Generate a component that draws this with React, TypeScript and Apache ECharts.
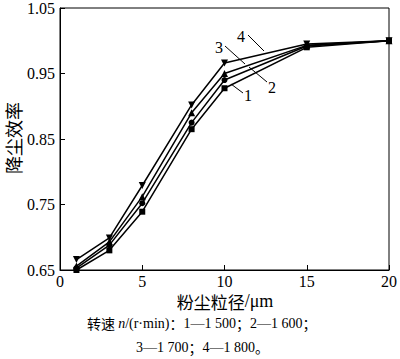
import React, { useEffect, useRef } from "react";
import * as echarts from "echarts";

const xValues = [1, 3, 5, 8, 10, 15, 20];
const s1 = [0.65, 0.68, 0.739, 0.865, 0.9275, 0.99, 1.0];
const s2 = [0.653, 0.688, 0.752, 0.875, 0.94, 0.992, 1.0];
const s3 = [0.656, 0.693, 0.762, 0.89, 0.95, 0.993, 1.0];
const s4 = [0.666, 0.699, 0.779, 0.902, 0.966, 0.995, 1.0];
const yTicks = [0.65, 0.75, 0.85, 0.95, 1.05];
const seriesNames = ["1", "2", "3", "4"];

const SERIF = "'Liberation Serif', 'Times New Roman', serif";
const CJK = "'Noto Sans CJK SC', sans-serif";

export default function App() {
  const ref = useRef<HTMLDivElement>(null);
  useEffect(() => {
    if (!ref.current) return;
    const chart = echarts.init(ref.current, null, { renderer: "svg" });
    const pair = (ys: number[]) => xValues.map((x, i) => [x, ys[i]]);
    const invTri = "path://M0,0 L10,0 L5,9 Z";
    const mk = (name: string, ys: number[], symbol: string, size: number) => ({
      name,
      type: "line",
      data: pair(ys),
      symbol,
      symbolSize: size,
      clip: false,
      lineStyle: { color: "#000", width: 1.5 },
      itemStyle: { color: "#000" },
    });
    chart.setOption({
      animation: false,
      grid: {
        left: 60,
        right: 8,
        top: 4,
        bottom: 89,
        show: true,
        borderColor: "#000",
        borderWidth: 1,
        backgroundColor: "transparent",
      },
      xAxis: {
        type: "value",
        min: 0,
        max: 20,
        interval: 5,
        axisLine: { lineStyle: { color: "#000", width: 1 } },
        axisTick: { inside: true, length: 5, lineStyle: { color: "#000" } },
        splitLine: { show: false },
        axisLabel: { color: "#000", fontFamily: SERIF, fontSize: 16, margin: 3 },
      },
      yAxis: {
        type: "value",
        min: 0.65,
        max: 1.05,
        axisLine: { show: true, lineStyle: { color: "#000", width: 1 } },
        axisTick: { show: true, inside: true, length: 5, customValues: yTicks, lineStyle: { color: "#000" } },
        splitLine: { show: false },
        axisLabel: {
          color: "#000",
          fontFamily: SERIF,
          fontSize: 16,
          margin: 5,
          customValues: yTicks,
          formatter: (v: number) => v.toFixed(2),
        },
      },
      series: [
        mk(seriesNames[0], s1, "rect", 6),
        mk(seriesNames[1], s2, "circle", 6),
        mk(seriesNames[2], s3, "triangle", 7),
        mk(seriesNames[3], s4, invTri, 7),
      ],
      graphic: [
        {
          type: "text",
          x: 13,
          y: 138,
          rotation: Math.PI / 2,
          style: { text: "降尘效率", font: `18px ${CJK}`, fill: "#000", align: "center", verticalAlign: "middle" },
        },
        {
          type: "text",
          x: 225,
          y: 301,
          style: {
            text: "{c|粉尘粒径}{l|/μm}",
            align: "center",
            verticalAlign: "middle",
            rich: {
              c: { fontFamily: CJK, fontSize: 17, fill: "#000" },
              l: { fontFamily: SERIF, fontSize: 18, fill: "#000" },
            },
          },
        },
        {
          type: "text",
          x: 87,
          y: 323,
          style: {
            text: "{c|转速 }{i|n}{l|/(r·min)}{c|：}{l|1—1 500}{c|；}{l|2—1 600}{c|；}",
            align: "left",
            verticalAlign: "middle",
            rich: {
              c: { fontFamily: CJK, fontSize: 14, fill: "#000" },
              l: { fontFamily: SERIF, fontSize: 14, fill: "#000" },
              i: { fontFamily: SERIF, fontSize: 14, fontStyle: "italic", fill: "#000" },
            },
          },
        },
        {
          type: "text",
          x: 136,
          y: 347,
          style: {
            text: "{l|3—1 700}{c|；}{l|4—1 800}{c|。}",
            align: "left",
            verticalAlign: "middle",
            rich: {
              c: { fontFamily: CJK, fontSize: 14, fill: "#000" },
              l: { fontFamily: SERIF, fontSize: 14, fill: "#000" },
            },
          },
        },
        { type: "text", x: 241, y: 36, style: { text: "4", font: `16px ${SERIF}`, fill: "#000", align: "center", verticalAlign: "middle" } },
        { type: "text", x: 219, y: 47, style: { text: "3", font: `16px ${SERIF}`, fill: "#000", align: "center", verticalAlign: "middle" } },
        { type: "text", x: 272, y: 87, style: { text: "2", font: `16px ${SERIF}`, fill: "#000", align: "center", verticalAlign: "middle" } },
        { type: "text", x: 248, y: 95, style: { text: "1", font: `16px ${SERIF}`, fill: "#000", align: "center", verticalAlign: "middle" } },
        { type: "line", shape: { x1: 248, y1: 35, x2: 264, y2: 51 }, style: { stroke: "#000", lineWidth: 1 } },
        { type: "line", shape: { x1: 225, y1: 46, x2: 245, y2: 64 }, style: { stroke: "#000", lineWidth: 1 } },
        { type: "line", shape: { x1: 249, y1: 67, x2: 267, y2: 82 }, style: { stroke: "#000", lineWidth: 1 } },
        { type: "line", shape: { x1: 231, y1: 84, x2: 243, y2: 93 }, style: { stroke: "#000", lineWidth: 1 } },
      ],
    });
    return () => chart.dispose();
  }, []);
  return (
    <div
      ref={ref}
      style={{ position: "fixed", left: 0, top: 0, width: 400, height: 359, background: "#fff" }}
    />
  );
}
